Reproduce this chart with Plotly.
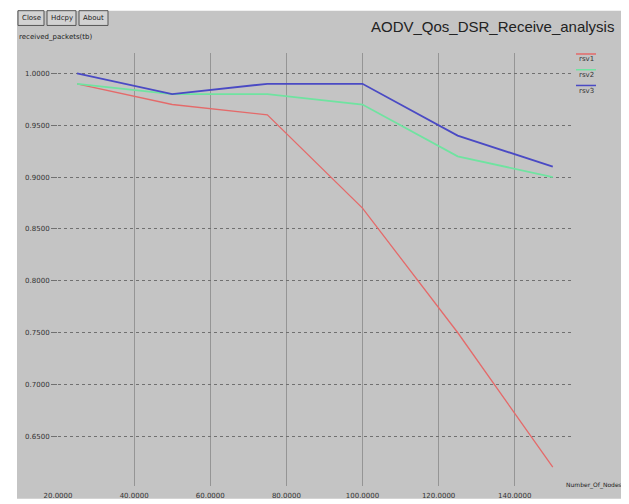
import plotly.graph_objects as go

# ---- data ----
nodes = [25, 50, 75, 100, 125, 150]
rsv1 = [0.99, 0.97, 0.96, 0.87, 0.75, 0.62]
rsv2 = [0.99, 0.98, 0.98, 0.97, 0.92, 0.90]
rsv3 = [1.00, 0.98, 0.99, 0.99, 0.94, 0.91]
series_names = ["rsv1", "rsv2", "rsv3"]
series_colors = ["#e46a6a", "#6fe3a0", "#4a4ac4"]
x_ticks = [20, 40, 60, 80, 100, 120, 140]
y_ticks = [0.65, 0.70, 0.75, 0.80, 0.85, 0.90, 0.95, 1.00]
title_text = "AODV_Qos_DSR_Receive_analysis"
y_label = "received_packets(tb)"
x_label = "Number_Of_Nodes"
buttons = ["Close", "Hdcpy", "About"]

W, H = 629, 504
L, T, R, B = 50, 45, 566, 485


def px2x(px):
    return (px - L) / (R - L)


def py2y(py):
    return (B - py) / (B - T)


BG = "#c4c4c4"
fig = go.Figure()
for name, vals, col, w in zip(series_names, [rsv1, rsv2, rsv3], series_colors, [1.3, 1.8, 1.8]):
    fig.add_trace(go.Scatter(x=nodes, y=vals, mode="lines", name=name,
                             line=dict(color=col, width=w), showlegend=False))

shapes = []
annotations = []
# grey window background
shapes.append(dict(type="rect", xref="paper", yref="paper", layer="below",
                   x0=px2x(9), x1=px2x(629), y0=py2y(498), y1=py2y(2),
                   fillcolor=BG, line=dict(width=0)))
# buttons
bx = [(10, 36), (39, 68), (71, 100)]
for (x0, x1), lab in zip(bx, buttons):
    shapes.append(dict(type="rect", xref="paper", yref="paper",
                       x0=px2x(x0), x1=px2x(x1), y0=py2y(17), y1=py2y(2),
                       fillcolor="#d2d2d2", line=dict(color="#555555", width=1)))
    annotations.append(dict(x=px2x((x0 + x1) / 2), y=py2y(9.5), xref="paper", yref="paper",
                            text=lab, showarrow=False, xanchor="center", yanchor="middle",
                            font=dict(family="DejaVu Sans", size=7, color="#222222")))
# y label
annotations.append(dict(x=px2x(9), y=py2y(29), xref="paper", yref="paper", text=y_label,
                        showarrow=False, xanchor="left", yanchor="middle",
                        font=dict(family="DejaVu Sans", size=7, color="#222222")))
# title
annotations.append(dict(x=px2x(608), y=py2y(18), xref="paper", yref="paper", text=title_text,
                        showarrow=False, xanchor="right", yanchor="middle",
                        font=dict(family="Liberation Sans", size=15, color="#222222")))
# x label
annotations.append(dict(x=px2x(616), y=py2y(484), xref="paper", yref="paper", text=x_label,
                        showarrow=False, xanchor="right", yanchor="middle",
                        font=dict(family="DejaVu Sans", size=6, color="#222222")))
# legend
for i, (name, col) in enumerate(zip(series_names, series_colors)):
    ly = 46 + 16 * i
    shapes.append(dict(type="line", xref="paper", yref="paper",
                       x0=px2x(568), x1=px2x(588), y0=py2y(ly), y1=py2y(ly),
                       line=dict(color=col, width=1.5)))
    annotations.append(dict(x=px2x(578), y=py2y(ly + 5.5), xref="paper", yref="paper",
                            text=name, showarrow=False, xanchor="center", yanchor="middle",
                            font=dict(family="DejaVu Sans", size=7, color="#333333")))

fig.update_layout(
    width=W, height=H,
    margin=dict(l=L, r=W - R, t=T, b=H - B, pad=0),
    paper_bgcolor="white", plot_bgcolor=BG,
    shapes=shapes, annotations=annotations,
    showlegend=False,
)
fig.update_xaxes(range=[20, 20 + (R - L) / 3.806], tickvals=x_ticks, tickformat=".4f",
                 showgrid=True, gridcolor="#959595", gridwidth=1.2, zeroline=False,
                 showline=False, ticks="", ticklabelstandoff=4,
                 tickfont=dict(family="DejaVu Sans", size=7, color="#333333"))
fig.update_yaxes(range=[0.6019, 1.0197], tickvals=y_ticks, tickformat=".4f",
                 showgrid=True, gridcolor="#707070", gridwidth=1.3, griddash="dot",
                 zeroline=False, showline=False, ticks="outside", ticklen=6,
                 tickcolor="#707070", tickwidth=1.3,
                 tickfont=dict(family="DejaVu Sans", size=7, color="#333333"))

fig.write_html("out.html")
